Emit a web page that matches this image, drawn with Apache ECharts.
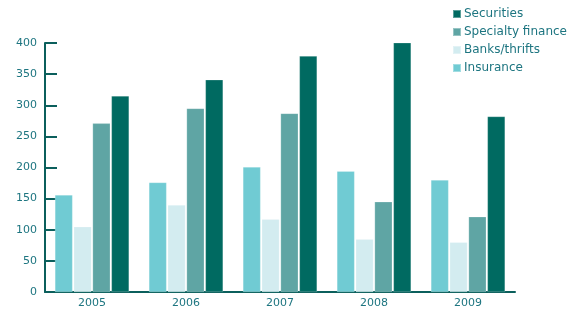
<!DOCTYPE html>
<html><head><meta charset="utf-8">
<script src="https://cdn.jsdelivr.net/npm/echarts@6/dist/echarts.min.js"></script>
<style>html,body{margin:0;padding:0;background:#fff}#c{width:575px;height:312px}</style>
</head><body><div id="c"></div>
<script>
const categories = ['2005','2006','2007','2008','2009'];
const insurance = [156, 176, 201, 194, 180];
const banks = [105, 140, 117, 85, 80];
const specialty = [271, 295, 287, 145, 121];
const securities = [315, 341, 379, 402, 282];
const yTicks = [0, 50, 100, 150, 200, 250, 300, 350, 400];

const textColor = '#1d7580';
const axisColor = '#0b5f5c';
const font = 'DejaVu Sans';
const chart = echarts.init(document.getElementById('c'));
function s(name, data, color) {
  return { name, type: 'bar', data, barGap: '6%', barCategoryGap: '21%',
    itemStyle: { color, borderColor: 'rgba(255,255,255,0.35)', borderWidth: 0.6 } };
}
chart.setOption({
  animation: false,
  grid: { left: 45, right: 60, top: 43, bottom: 20 },
  legend: {
    orient: 'vertical', left: 447, top: 3, itemWidth: 8, itemHeight: 8, itemGap: 6,
    icon: 'rect',
    data: ['Securities', 'Specialty finance', 'Banks/thrifts', 'Insurance'],
    textStyle: { color: textColor, fontFamily: font, fontSize: 12, padding: [0,0,0,-2] }
  },
  xAxis: {
    type: 'category', data: categories,
    axisLine: { lineStyle: { color: axisColor, width: 2 } },
    axisTick: { show: false },
    axisLabel: { color: textColor, fontFamily: font, fontSize: 11, margin: 6 }
  },
  yAxis: {
    type: 'value', min: 0, max: 400, interval: 50,
    axisLine: { show: true, lineStyle: { color: axisColor, width: 2 } },
    axisTick: { show: true, inside: true, length: 12, lineStyle: { color: axisColor, width: 2 } },
    splitLine: { show: false },
    axisLabel: { color: textColor, fontFamily: font, fontSize: 11, margin: 8,
      formatter: v => yTicks.includes(v) ? String(v) : '' }
  },
  series: [
    s('Insurance', insurance, '#70cbd3'),
    s('Banks/thrifts', banks, '#d3ecf0'),
    s('Specialty finance', specialty, '#5fa5a4'),
    s('Securities', securities, '#006a61')
  ]
});
</script></body></html>
